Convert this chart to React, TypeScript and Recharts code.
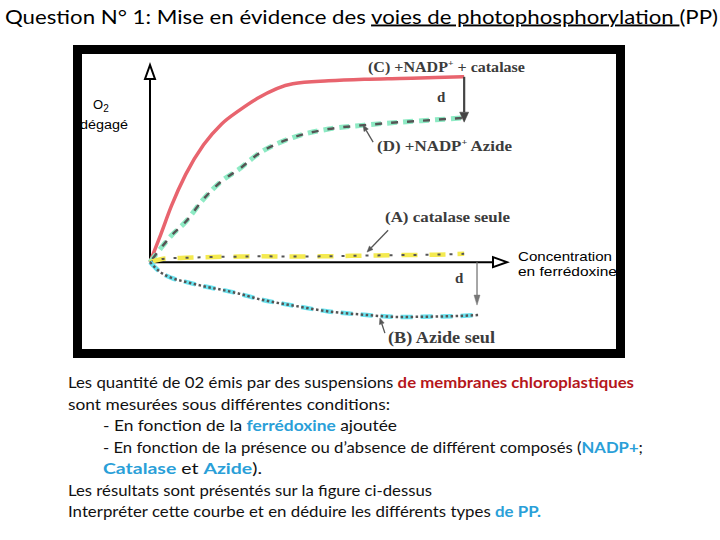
import React from "react";
import { LineChart, Line, XAxis, YAxis, ReferenceLine } from "recharts";

// Concentration en ferrédoxine (unités arbitraires)
const conc = [0, 0.3, 0.6, 1, 1.5, 2, 2.5, 3, 4, 5, 6, 7, 8, 8.8, 9.2];
// (C) +NADP+ + catalase
const seriesC = [0, 1.4, 2.85, 4.45, 5.95, 7.0, 7.7, 8.3, 9.05, 9.2, 9.28, 9.32, 9.36, 9.4, null];
// (D) +NADP+ Azide
const seriesD = [0, 0.7, 1.35, 2.05, 3.2, 4.1, 4.72, 5.45, 6.32, 6.75, 6.95, 7.1, 7.22, 7.32, null];
// (A) catalase seule
const seriesA = [0, 0.15, 0.2, 0.22, 0.25, 0.27, 0.28, 0.3, 0.28, 0.3, 0.33, 0.36, 0.38, 0.42, null];
// (B) Azide seul
const seriesB = [0, -0.52, -0.8, -1.0, -1.22, -1.4, -1.6, -1.85, -2.2, -2.5, -2.67, -2.78, -2.76, -2.72, -2.68];

const rows = conc.map((x, i) => ({ x, C: seriesC[i], D: seriesD[i], A: seriesA[i], B: seriesB[i] }));

// annotation arrows (data coordinates)
const dTop = { x: 8.8, from: 9.4, to: 7.1 };
const dBottom = { x: 9.16, from: 0, to: -2.18 };
const pointerD = [{ x: 6.25, y: 6.09 }, { x: 5.97, y: 6.95 }];
const pointerA = [{ x: 6.67, y: 1.62 }, { x: 6.08, y: 0.51 }];
const pointerB = [{ x: 6.58, y: -3.6 }, { x: 6.44, y: -2.84 }];

const makeArrow = (color: string, width: number, head: number, half: number, hollow = false) => (props: any) => {
  const x1 = Number(props.x1), y1 = Number(props.y1), x2 = Number(props.x2), y2 = Number(props.y2);
  const ang = Math.atan2(y2 - y1, x2 - x1);
  const hx = x2 - head * Math.cos(ang);
  const hy = y2 - head * Math.sin(ang);
  const sx = half * Math.sin(ang), sy = half * Math.cos(ang);
  const pts = `${x2},${y2} ${hx + sx},${hy - sy} ${hx - sx},${hy + sy}`;
  return (
    <g>
      <line x1={x1} y1={y1} x2={hx} y2={hy} stroke={color} strokeWidth={width} />
      <polygon points={pts} fill={hollow ? "#fff" : color} stroke={color} strokeWidth={hollow ? 2 : 0.5} strokeLinejoin="miter" />
    </g>
  );
};

const axisArrow = makeArrow("#000", 2, 14, 5, true);
const dArrowTop = makeArrow("#444", 2.2, 10, 4.5);
const dArrowBottom = makeArrow("#777", 1.3, 10, 3);
const pointer = makeArrow("#555", 1.3, 6, 2.5);

const serif = "'Liberation Serif', 'DejaVu Serif', serif";
const sans = "'Liberation Sans', Arial, sans-serif";
const body = "Lato, 'Open Sans', sans-serif";
const red = "#b5161b";
const blue = "#2a9fd8";

export default function App() {
  return (
    <div style={{ position: "absolute", left: 0, top: 0, width: 720, height: 540, background: "#fff", overflow: "hidden" }}>
      <div
        style={{
          position: "absolute",
          left: 73,
          top: 45,
          width: 552,
          height: 313,
          boxSizing: "border-box",
          border: "9px solid #000",
          background: "#fff",
        }}
      />
      <svg width={720} height={540} style={{ position: "absolute", left: 0, top: 0 }}>
        <text x={5} y={23.5} fontFamily={body} fontSize={19} fill="#000" textLength={713} lengthAdjust="spacingAndGlyphs">
          Question N° 1: Mise en évidence des <tspan style={{ textDecoration: "underline" }}>{"voies de photophosphorylation "}</tspan>(PP)
        </text>

        <g fontFamily={body} fontSize={15} fill="#111">
          <text x={68} y={388} textLength={566} lengthAdjust="spacingAndGlyphs">
            Les quantité de 02 émis par des suspensions <tspan fill={red} fontWeight="bold">de membranes chloroplastiques</tspan>
          </text>
          <text x={68} y={409.5} textLength={322} lengthAdjust="spacingAndGlyphs">
            sont mesurées sous différentes conditions:
          </text>
          <text x={103} y={431} textLength={294} lengthAdjust="spacingAndGlyphs">
            - En fonction de la <tspan fill={blue} fontWeight="bold">ferrédoxine</tspan> ajoutée
          </text>
          <text x={103} y={452.5} textLength={540} lengthAdjust="spacingAndGlyphs">
            - En fonction de la présence ou d’absence de différent composés (<tspan fill={blue} fontWeight="bold">NADP+</tspan>;
          </text>
          <text x={103} y={474} textLength={159} lengthAdjust="spacingAndGlyphs">
            <tspan fill={blue} fontWeight="bold">Catalase</tspan> et <tspan fill={blue} fontWeight="bold">Azide</tspan>).
          </text>
          <text x={68} y={495.5} textLength={364} lengthAdjust="spacingAndGlyphs">
            Les résultats sont présentés sur la figure ci-dessus
          </text>
          <text x={68} y={517} textLength={473} lengthAdjust="spacingAndGlyphs">
            Interpréter cette courbe et en déduire les différents types <tspan fill={blue} fontWeight="bold">de PP.</tspan>
          </text>
        </g>

        <g fontFamily={serif} fontWeight="bold" fill="#3c3c3c" fontSize={15}>
          <text x={368} y={72} textLength={157} lengthAdjust="spacingAndGlyphs">
            (C) +NADP<tspan dy={-6} fontSize={9}>+</tspan><tspan dy={6}> + catalase</tspan>
          </text>
          <text x={437} y={102} fontSize={15}>d</text>
          <text x={377} y={151} textLength={135} lengthAdjust="spacingAndGlyphs">
            (D) +NADP<tspan dy={-6} fontSize={9}>+</tspan><tspan dy={6}> Azide</tspan>
          </text>
          <text x={385} y={222} textLength={125} lengthAdjust="spacingAndGlyphs">(A) catalase seule</text>
          <text x={455} y={283} fontSize={15}>d</text>
          <text x={388} y={343} fontSize={16} textLength={107} lengthAdjust="spacingAndGlyphs">(B) Azide seul</text>
        </g>

        <g fontFamily={sans} fill="#000" fontSize={13}>
          <text x={518} y={261} textLength={94} lengthAdjust="spacingAndGlyphs">Concentration</text>
          <text x={518} y={276} textLength={99} lengthAdjust="spacingAndGlyphs">en ferrédoxine</text>
          <text x={93} y={109} fontSize={13}>
            O<tspan dy={3} fontSize={10}>2</tspan>
          </text>
          <text x={80} y={129} fontSize={12} textLength={48} lengthAdjust="spacingAndGlyphs">dégagé</text>
        </g>
      </svg>

      <div style={{ position: "absolute", left: 0, top: 0 }}>
        <LineChart width={720} height={540} data={rows} margin={{ top: 65, right: 213, bottom: 199, left: 150 }}>
          <XAxis type="number" dataKey="x" domain={[0, 10]} hide />
          <YAxis type="number" domain={[-4, 10]} hide />

          <ReferenceLine segment={[{ x: 0, y: 0 }, { x: 10, y: 0 }]} shape={axisArrow} />
          <ReferenceLine segment={[{ x: 0, y: 0 }, { x: 0, y: 10 }]} shape={axisArrow} />

          <Line type="monotone" dataKey="C" stroke="#e8646e" strokeWidth={3.5} dot={false} activeDot={false} isAnimationActive={false} />

          <Line type="monotone" dataKey="D" stroke="#8eeac4" strokeWidth={5} strokeDasharray="10 6" dot={false} activeDot={false} isAnimationActive={false} />
          <Line type="monotone" dataKey="D" stroke="#555" strokeWidth={2.5} strokeDasharray="7 9" strokeDashoffset={-4} dot={false} activeDot={false} isAnimationActive={false} />

          <Line type="monotone" dataKey="A" stroke="#f4ea50" strokeWidth={4.5} strokeDasharray="16 12" dot={false} activeDot={false} isAnimationActive={false} />
          <Line type="monotone" dataKey="A" stroke="#555" strokeWidth={2} strokeDasharray="3 9" dot={false} activeDot={false} isAnimationActive={false} />

          <Line type="monotone" dataKey="B" stroke="#6ae4f0" strokeWidth={4.5} strokeDasharray="12 8" dot={false} activeDot={false} isAnimationActive={false} />
          <Line type="monotone" dataKey="B" stroke="#555" strokeWidth={2.5} strokeDasharray="2.5 2.5" dot={false} activeDot={false} isAnimationActive={false} />

          <ReferenceLine segment={[{ x: dTop.x, y: dTop.from }, { x: dTop.x, y: dTop.to }]} shape={dArrowTop} />
          <ReferenceLine segment={[{ x: dBottom.x, y: dBottom.from }, { x: dBottom.x, y: dBottom.to }]} shape={dArrowBottom} />
          <ReferenceLine segment={pointerD} shape={pointer} />
          <ReferenceLine segment={pointerA} shape={pointer} />
          <ReferenceLine segment={pointerB} shape={pointer} />
        </LineChart>
      </div>
    </div>
  );
}
